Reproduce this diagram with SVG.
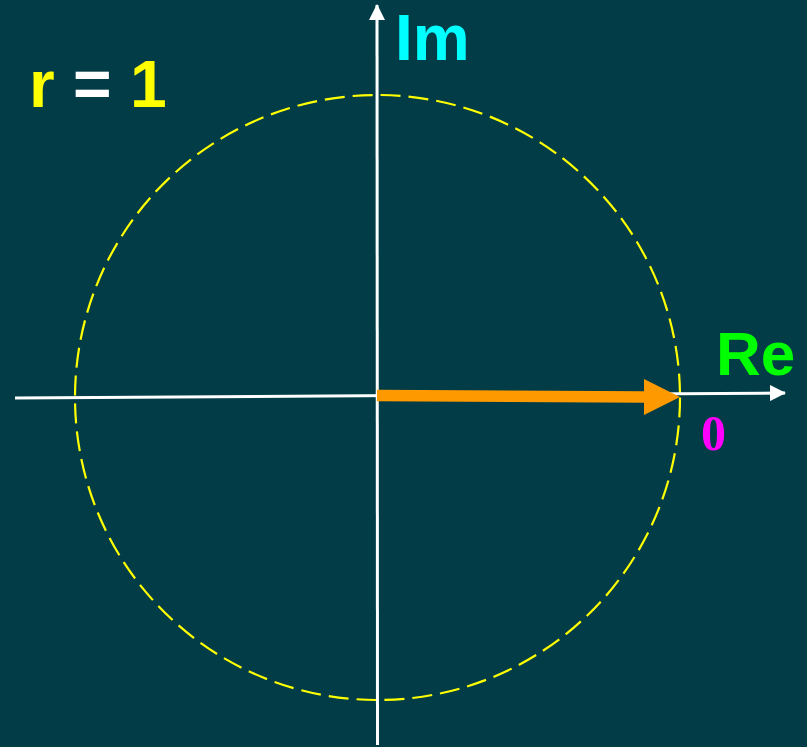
<svg xmlns="http://www.w3.org/2000/svg" width="807" height="747" viewBox="0 0 807 747">
<style>
.axis{stroke:#ffffff;stroke-width:3;fill:none}
.lbl{font-family:"Liberation Sans",Arial,sans-serif;font-weight:bold}
</style>
<defs>
<marker id="wa" markerWidth="16" markerHeight="16" refX="15" refY="8" orient="auto" markerUnits="userSpaceOnUse"><path d="M0,0 L16,8 L0,16 Z" fill="#ffffff"/></marker>
</defs>
<rect width="807" height="747" fill="#013C47"/>
<g id="circle">
<circle cx="377.5" cy="397.5" r="302.5" fill="none" stroke="#ffff00" stroke-width="2.2" stroke-dasharray="20 8"/>
</g>
<g id="connectors">
<line class="axis" x1="15" y1="398" x2="785" y2="393" marker-end="url(#wa)"/>
<line class="axis" x1="377.5" y1="745" x2="377" y2="5" marker-end="url(#wa)"/>
<line x1="377" y1="395.5" x2="646" y2="397" stroke="#ff9900" stroke-width="11.5"/>
<path d="M644,379 L680,397 L644,415 Z" fill="#ff9900"/>
</g>
<g id="label-im"><text class="lbl" x="395" y="60" font-size="64" fill="#00ffff">Im</text></g>
<g id="label-re"><text class="lbl" x="716" y="375" font-size="62" fill="#00ff00">Re</text></g>
<g id="label-zero"><text x="701" y="450" font-family="'Liberation Serif','Times New Roman',serif" font-weight="bold" font-size="50" fill="#ff00ff">0</text></g>
<g id="label-r"><text class="lbl" x="29" y="107" font-size="66"><tspan fill="#ffff00">r</tspan><tspan fill="#ffffff"> = </tspan><tspan fill="#ffff00">1</tspan></text></g>
</svg>
